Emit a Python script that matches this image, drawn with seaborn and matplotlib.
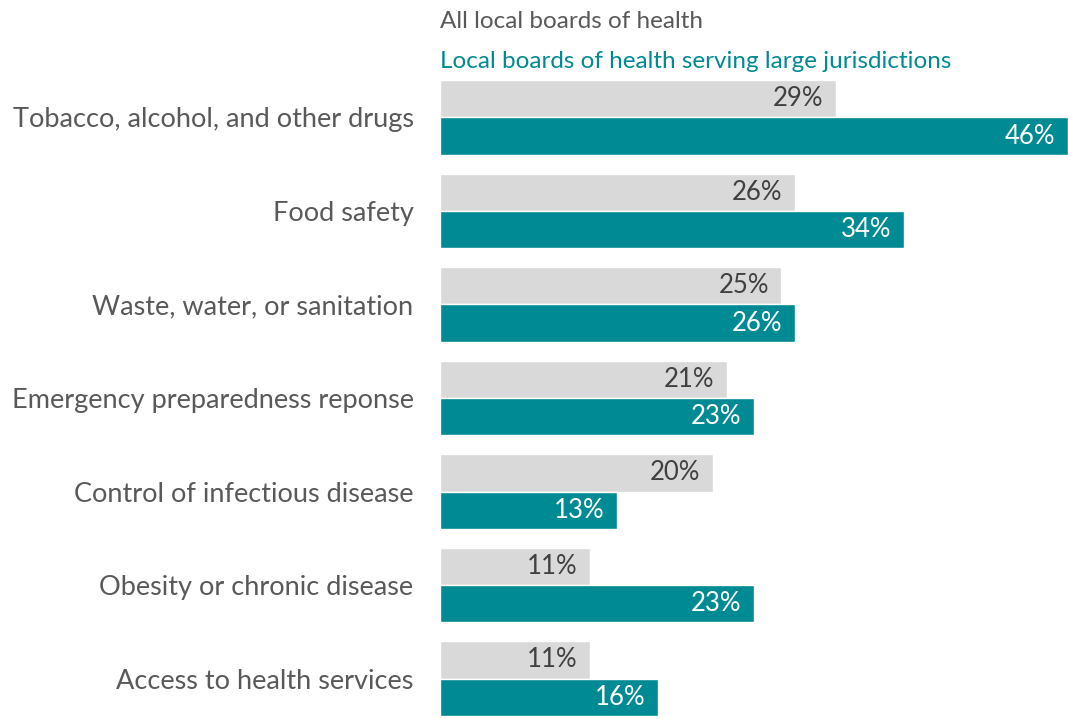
import pandas as pd
import seaborn as sns
import matplotlib.pyplot as plt

categories = [
    "Tobacco, alcohol, and other drugs",
    "Food safety",
    "Waste, water, or sanitation",
    "Emergency preparedness reponse",
    "Control of infectious disease",
    "Obesity or chronic disease",
    "Access to health services",
]
all_boards = [29, 26, 25, 21, 20, 11, 11]
large_boards = [46, 34, 26, 23, 13, 23, 16]
series_names = ["All local boards of health",
                "Local boards of health serving large jurisdictions"]

GRAY = "#d9d9d9"
TEAL = "#008a94"
TEXT = "#595959"

df = pd.DataFrame({
    "category": categories * 2,
    "value": all_boards + large_boards,
    "series": [series_names[0]] * len(categories) + [series_names[1]] * len(categories),
})

sns.set_style("white")
plt.rcParams['font.family'] = ['Lato', 'DejaVu Sans']

fig = plt.figure(figsize=(10.68, 7.19), dpi=100)
ax = fig.add_axes([440 / 1068, 3 / 719, 628 / 1068, 636 / 719])

sns.barplot(data=df, x="value", y="category", hue="series", orient="h",
            palette=[GRAY, TEAL], width=0.8, saturation=1, ax=ax, legend=False)

ax.set_xlim(0, 46)
ax.set_ylim(6.4, -0.4)
ax.set_xlabel("")
ax.set_ylabel("")
ax.set_xticks([])
ax.tick_params(axis="y", length=0, pad=19, labelsize=19.5, labelcolor=TEXT)
sns.despine(ax=ax, left=True, bottom=True, top=True, right=True)

# value labels inside bar ends
for container, col in zip(ax.containers, ["#404040", "white"]):
    ax.bar_label(container, labels=[f"{v:.0f}%" for v in container.datavalues],
                 padding=-9, color=col, fontsize=18.5)
for t in ax.texts:
    t.set_ha("right")

fig.text(440 / 1068, 1 - 21 / 719, series_names[0], color=TEXT,
         fontsize=17.5, ha="left", va="center")
fig.text(440 / 1068, 1 - 61 / 719, series_names[1], color=TEAL,
         fontsize=17.5, ha="left", va="center")

fig.savefig("out.png", dpi=100)
